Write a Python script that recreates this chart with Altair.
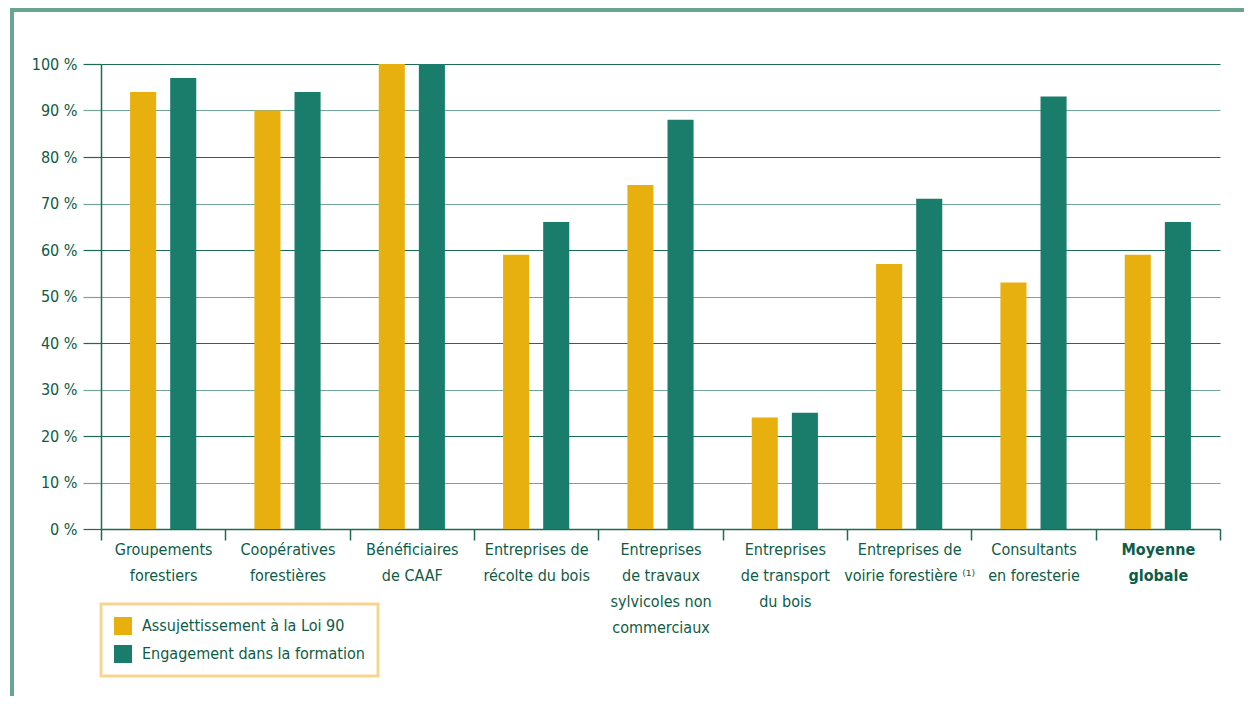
import altair as alt
import pandas as pd

categories = [
    "Groupements|forestiers",
    "Coopératives|forestières",
    "Bénéficiaires|de CAAF",
    "Entreprises de|récolte du bois",
    "Entreprises|de travaux|sylvicoles non|commerciaux",
    "Entreprises|de transport|du bois",
    "Entreprises de|voirie forestière ⁽¹⁾",
    "Consultants|en foresterie",
    "Moyenne|globale",
]
series = ["Assujettissement à la Loi 90", "Engagement dans la formation"]
assujettissement = [94, 90, 100, 59, 74, 24, 57, 53, 59]
engagement = [97, 94, 100, 66, 88, 25, 71, 93, 66]
y_ticks = list(range(0, 101, 10))

rows = []
for c, a, e in zip(categories, assujettissement, engagement):
    rows.append({"cat": c, "series": series[0], "value": a})
    rows.append({"cat": c, "series": series[1], "value": e})
df = pd.DataFrame(rows)

YELLOW = "#e8b00f"
TEAL = "#1a7d6b"
DARK = "#1d6b55"
LIGHT = "#72a699"
TEXT = "#0d5c47"
FRAME = "#6aa593"
FONT = "DejaVu Sans Condensed, sans-serif"
FS = 16

W, H = 1119, 465
PAD = {"left": 93, "top": 56, "right": 24, "bottom": 167}

bars = alt.Chart(df).mark_bar().encode(
    x=alt.X(
        "cat:N",
        sort=categories,
        scale=alt.Scale(paddingInner=0, paddingOuter=0),
        axis=alt.Axis(
            title=None,
            labelAngle=0,
            labelExpr="split(datum.label, '|')",
            tickBand="extent",
            tickSize=11,
            tickColor=DARK,
            tickWidth=1.5,
            domainColor=DARK,
            domainWidth=1.5,
            labelLineHeight=26,
            labelPadding=1,
            labelBaseline="top",
            labelLimit=0,
            labelFontWeight={
                "condition": {"test": "indexof(datum.label, 'Moyenne') >= 0", "value": "bold"},
                "value": "normal",
            },
        ),
    ),
    xOffset=alt.XOffset(
        "series:N", sort=series, scale=alt.Scale(paddingInner=0.35, paddingOuter=0.725)
    ),
    y=alt.Y(
        "value:Q",
        scale=alt.Scale(domain=[0, 100], nice=False),
        axis=alt.Axis(
            title=None,
            values=y_ticks,
            labelExpr="datum.value + ' %'",
            grid=True,
            gridColor={"condition": {"test": "datum.value % 20 == 0", "value": DARK}, "value": LIGHT},
            tickColor={"condition": {"test": "datum.value % 20 == 0", "value": DARK}, "value": LIGHT},
            gridWidth=1.2,
            tickWidth=1.2,
            tickSize=18,
            domainColor=DARK,
            domainWidth=1.5,
            labelPadding=6,
        ),
    ),
    color=alt.Color(
        "series:N",
        sort=series,
        scale=alt.Scale(domain=series, range=[YELLOW, TEAL]),
        legend=alt.Legend(
            title=None,
            orient="none",
            legendX=0,
            legendY=540,
            strokeColor="#f5d590",
            fillColor="white",
            padding=13,
            symbolType="square",
            symbolSize=324,
            symbolStrokeWidth=0,
            symbolOpacity=1,
            rowPadding=10,
            labelOffset=10,
            labelFontSize=FS,
            labelColor=TEXT,
            labelFont=FONT,
            labelLimit=0,
        ),
    ),
)

frame_df = pd.DataFrame({"k": [0]})
left_frame = alt.Chart(frame_df).mark_rule(color=FRAME, strokeWidth=4).encode(
    x=alt.value(-89), y=alt.value(-56), y2=alt.value(H + PAD["bottom"])
)
top_frame = alt.Chart(frame_df).mark_rule(color=FRAME, strokeWidth=4).encode(
    x=alt.value(-91), x2=alt.value(W + PAD["right"]), y=alt.value(-54)
)

chart = (
    alt.layer(bars, left_frame, top_frame)
    .properties(width=W, height=H, padding=PAD, autosize=alt.AutoSizeParams(type="none"))
    .configure_view(stroke=None)
    .configure_axis(labelFont=FONT, labelFontSize=FS, labelColor=TEXT)
    .configure_legend(strokeWidth=3)
)

chart.save("out.html", embed_options={"renderer": "svg", "actions": False})
